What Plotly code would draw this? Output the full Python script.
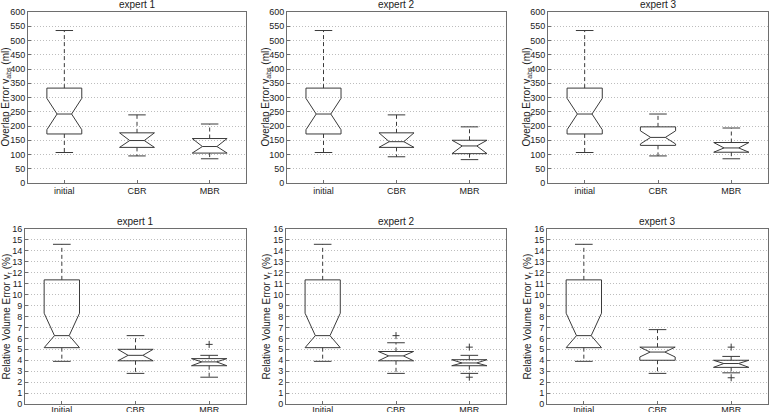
import plotly.graph_objects as go
from plotly.subplots import make_subplots

# categorias
cats_top = ["initial", "CBR", "MBR"]
cats_bottom = ["Initial", "CBR", "MBR"]
experts = ["expert 1", "expert 2", "expert 3"]

# Overlap Error (ml) -- una lista por experto: [initial, CBR, MBR]
ov_whisker_lo = [[107, 95, 85], [107, 92, 82], [107, 95, 85]]
ov_q1 = [[172, 125, 105], [172, 125, 103], [172, 132, 108]]
ov_median = [[242, 149, 128], [242, 145, 130], [242, 160, 123]]
ov_q3 = [[333, 176, 156], [333, 176, 150], [333, 197, 142]]
ov_whisker_hi = [[535, 239, 207], [535, 239, 197], [535, 242, 193]]
ov_notch_lo = [[187, 125, 105], [187, 125, 103], [187, 137, 108]]
ov_notch_hi = [[297, 176, 156], [297, 176, 150], [297, 183, 142]]
ov_outliers = [[[], [], []], [[], [], []], [[], [], []]]

# Relative Volume Error (%)
rv_whisker_lo = [[3.9, 2.8, 2.45], [3.9, 2.8, 2.8], [3.9, 2.8, 2.85]]
rv_q1 = [[5.15, 3.95, 3.5], [5.15, 3.95, 3.5], [5.15, 4.0, 3.35]]
rv_median = [[6.25, 4.45, 3.85], [6.25, 4.4, 3.75], [6.25, 4.75, 3.7]]
rv_q3 = [[11.35, 5.0, 4.15], [11.35, 4.8, 4.05], [11.35, 5.2, 4.0]]
rv_whisker_hi = [[14.6, 6.25, 4.45], [14.6, 5.6, 4.45], [14.6, 6.8, 4.35]]
rv_notch_lo = [[5.15, 3.95, 3.5], [5.15, 3.95, 3.5], [5.15, 4.3, 3.35]]
rv_notch_hi = [[8.3, 5.0, 4.15], [8.3, 4.8, 4.05], [8.3, 5.2, 4.0]]
rv_outliers = [[[], [], [5.45]], [[], [6.25], [5.2, 2.45]], [[], [], [5.2, 2.4]]]

ylabels = ["Overlap Error v<sub>abs</sub> (ml)", "Relative Volume Error v<sub>r</sub> (%)"]

FONT = "Liberation Sans, Arial, sans-serif"
LINE = "#3a3a3a"
AXC = "#6e6e6e"

W = 0.24     # media anchura de la caja
NW = 0.10    # media anchura en la muesca
CW = 0.12    # media anchura de los topes

fig = make_subplots(rows=2, cols=3)

# dominios en pixeles (769 x 412)
x_px = [[[28, 246], [287, 506], [548, 768]],
        [[25, 246], [286, 506], [547, 768]]]
y_px = [[12, 183], [229, 404]]
ytitle_px = [[6, 266, 527], [6, 266, 527]]
label_shift = [-1, -3]


def px_x(v):
    return v / 769


def px_y(v):
    return 1 - v / 412


def add_boxes(row, col, wlo, q1, med, q3, whi, nlo, nhi, outl):
    bx, by, mx, my, wx, wy, cx, cy, ox, oy = [], [], [], [], [], [], [], [], [], []
    for i in range(3):
        p = i + 1
        bx += [p - W, p - W, p - NW, p - W, p - W, p + W, p + W, p + NW, p + W, p + W, p - W, None]
        by += [q3[i], nhi[i], med[i], nlo[i], q1[i], q1[i], nlo[i], med[i], nhi[i], q3[i], q3[i], None]
        mx += [p - NW, p + NW, None]
        my += [med[i], med[i], None]
        wx += [p, p, None, p, p, None]
        wy += [q3[i], whi[i], None, q1[i], wlo[i], None]
        cx += [p - CW, p + CW, None, p - CW, p + CW, None]
        cy += [whi[i], whi[i], None, wlo[i], wlo[i], None]
        for v in outl[i]:
            ox.append(p)
            oy.append(v)
    fig.add_trace(go.Scatter(x=wx, y=wy, mode="lines", line=dict(color=LINE, width=1, dash="4px,3px"),
                             hoverinfo="skip"), row=row, col=col)
    fig.add_trace(go.Scatter(x=cx, y=cy, mode="lines", line=dict(color=LINE, width=1),
                             hoverinfo="skip"), row=row, col=col)
    fig.add_trace(go.Scatter(x=bx, y=by, mode="lines", line=dict(color=LINE, width=1)), row=row, col=col)
    fig.add_trace(go.Scatter(x=mx, y=my, mode="lines", line=dict(color=LINE, width=1)), row=row, col=col)
    if ox:
        fig.add_trace(go.Scatter(x=ox, y=oy, mode="markers",
                                 marker=dict(symbol="cross-thin", size=5, line=dict(color=LINE, width=1))),
                      row=row, col=col)


for e in range(3):
    add_boxes(1, e + 1, ov_whisker_lo[e], ov_q1[e], ov_median[e], ov_q3[e], ov_whisker_hi[e],
              ov_notch_lo[e], ov_notch_hi[e], ov_outliers[e])
    add_boxes(2, e + 1, rv_whisker_lo[e], rv_q1[e], rv_median[e], rv_q3[e], rv_whisker_hi[e],
              rv_notch_lo[e], rv_notch_hi[e], rv_outliers[e])

for r in range(2):
    ydom = [px_y(y_px[r][1]), px_y(y_px[r][0])]
    for c in range(3):
        xdom = [px_x(x_px[r][c][0]), px_x(x_px[r][c][1])]
        fig.update_xaxes(domain=xdom, range=[0.5, 3.5], tickvals=[1, 2, 3],
                         ticktext=cats_top if r == 0 else cats_bottom, automargin=False,
                         showgrid=False, zeroline=False, showline=True, mirror=True,
                         linecolor=AXC, linewidth=1, ticks="inside", ticklen=3, tickcolor=AXC,
                         ticklabelstandoff=label_shift[r],
                         tickfont=dict(size=9, color="#222"), row=r + 1, col=c + 1)
        if r == 0:
            fig.update_yaxes(range=[0, 600], dtick=50, row=r + 1, col=c + 1)
        else:
            fig.update_yaxes(range=[0, 16], dtick=1, row=r + 1, col=c + 1)
        fig.update_yaxes(domain=ydom, showgrid=True, gridcolor="#bdbdbd", griddash="1px,2px", gridwidth=1,
                         zeroline=False, showline=True, mirror=True, linecolor=AXC, linewidth=1,
                         ticks="inside", ticklen=3, tickcolor=AXC, automargin=False,
                         tickfont=dict(size=9, color="#222"), row=r + 1, col=c + 1)

        # titulo del panel
        fig.add_annotation(text=experts[c], x=sum(xdom) / 2, y=ydom[1],
                           xref="paper", yref="paper", xanchor="center", yanchor="bottom",
                           showarrow=False, font=dict(size=10, color="#222"))
        # titulo del eje y
        fig.add_annotation(text=ylabels[r], x=px_x(ytitle_px[r][c]), y=sum(ydom) / 2,
                           xref="paper", yref="paper", xanchor="center", yanchor="middle",
                           textangle=-90, showarrow=False, font=dict(size=10, color="#222"))

fig.update_layout(
    width=769, height=412,
    margin=dict(l=0, r=0, t=0, b=0),
    paper_bgcolor="white", plot_bgcolor="white",
    showlegend=False,
    font=dict(family=FONT, size=9, color="#222"),
)

# quitar el margen del body para que la figura quede en (0, 0)
fig.write_html("out.html", config={"displayModeBar": False},
               post_script="document.body.style.margin='0';")
